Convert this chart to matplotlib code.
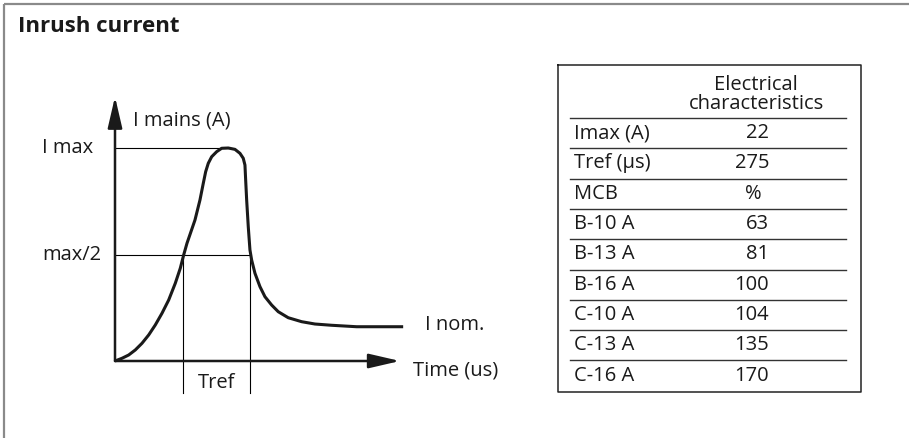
import matplotlib
matplotlib.use("Agg")
import matplotlib.pyplot as plt

plt.rcParams['font.family'] = ['Open Sans', 'DejaVu Sans']

# ---- data ----
title = "Inrush current"
curve_t = [0, 28.7, 56.2, 83.3, 110.8, 138.3, 165.4, 192.9, 220.4, 247.5, 268.0,
           281.9, 295.5, 328.3, 348.8, 362.4, 372.2, 382.9, 396.9, 417.4, 437.9,
           465.0, 492.5, 513.0, 526.5, 533.5, 536.4, 540.5, 547.1, 554.0, 561.0,
           574.6, 595.1, 615.6, 643.1, 670.2, 711.2, 766.2, 820.8, 889.3, 992, 1183]
curve_i = [0, 0.28, 0.62, 1.14, 1.83, 2.69, 3.72, 4.93, 6.30, 8.03, 9.58,
           10.95, 12.16, 14.56, 16.63, 18.35, 19.55, 20.42, 21.10, 21.62, 21.97,
           22.0, 21.86, 21.45, 20.94, 20.24, 18.70, 16.63, 13.87, 11.47, 10.43,
           9.06, 7.68, 6.64, 5.78, 5.09, 4.47, 4.06, 3.82, 3.69, 3.54, 3.54]
i_max = 22
t_rise = 281
t_ref = 275
i_nom = 3.54
t_axis_end = 1170
i_axis_end = 27.3

table_header = ["Electrical", "characteristics"]
row_labels = ["Imax (A)", "Tref (µs)", "MCB", "B-10 A", "B-13 A", "B-16 A",
              "C-10 A", "C-13 A", "C-16 A"]
row_values = ["22", "275", "%", "63", "81", "100", "104", "135", "170"]

W, H = 909, 438
fig = plt.figure(figsize=(W / 100, H / 100), dpi=100)
TXT = '#1a1a1a'
fs = 14.5

# overlay in pixel coords
ov = fig.add_axes([0, 0, 1, 1])
ov.set_xlim(0, W)
ov.set_ylim(H, 0)
ov.axis('off')

# frame (top + left)
ov.plot([4, W], [4, 4], color='#8a8a8a', lw=1.6, solid_capstyle='butt')
ov.plot([4, 4], [4, H], color='#8a8a8a', lw=1.6, solid_capstyle='butt')
ov.text(18, 27, title, fontsize=16, fontweight='bold', color=TXT,
        ha='left', va='center')

# table
tx0, tx1, ty0, ty1 = 558, 861, 65, 392
ov.plot([tx0, tx1, tx1, tx0, tx0], [ty0, ty0, ty1, ty1, ty0], color='#222222', lw=1.1)
for j, hl in enumerate(table_header):
    ov.text(756, 90 + 19 * j, hl, fontsize=fs, ha='center', va='baseline', color=TXT)
row_h = 30.3
first_line = 118
for k, (lab, val) in enumerate(zip(row_labels, row_values)):
    yl = first_line + k * row_h
    ov.plot([570, 846], [yl, yl], color='#333333', lw=1.0)
    yc = yl + row_h / 2
    ov.text(574, yc, lab, fontsize=fs, ha='left', va='center', color=TXT)
    if val == "%":
        ov.text(753, yc, val, fontsize=fs, ha='center', va='center', color=TXT)
    else:
        ov.text(769, yc, val, fontsize=fs, ha='right', va='center', color=TXT)

# chart axes (data coords)
x0px, x1px = 115, 400
y0px, y1px = 361, 148
ax = fig.add_axes([x0px / W, (H - y0px) / H, (x1px - x0px) / W, (y0px - y1px) / H])
ax.set_xlim(0, t_axis_end)
ax.set_ylim(0, i_max)
ax.axis('off')

t_fall = t_rise + t_ref
half = i_max / 2
peak_t = curve_t[curve_i.index(max(curve_i))]

ax.plot([0, peak_t], [i_max, i_max], color='k', lw=0.8, clip_on=False)
ax.plot([0, t_fall], [half, half], color='k', lw=0.8, clip_on=False)
for tv in (t_rise, t_fall):
    ax.plot([tv, tv], [half, -3.3], color='k', lw=0.8, clip_on=False)

ax.plot(curve_t, curve_i, color=TXT, lw=2.2, clip_on=False,
        solid_capstyle='butt', solid_joinstyle='round')

arr = dict(arrowstyle='-|>,head_length=0.95,head_width=0.22', lw=1.8, color=TXT,
           shrinkA=0, shrinkB=0, mutation_scale=20)
ax.annotate('', xy=(t_axis_end, 0), xytext=(0, 0), arrowprops=arr, annotation_clip=False)
ax.annotate('', xy=(0, i_axis_end), xytext=(0, 0), arrowprops=arr, annotation_clip=False)

ax.text(-300, i_max, "I max", fontsize=fs, ha='left', va='center', color=TXT)
ax.text(-300, half, "max/2", fontsize=fs, ha='left', va='center', color=TXT)
ax.text(74, 24.8, "I mains (A)", fontsize=fs, ha='left', va='center', color=TXT)
ax.text(1273, 3.7, "I nom.", fontsize=fs, ha='left', va='center', color=TXT)
ax.text(1223, -0.93, "Time (us)", fontsize=fs, ha='left', va='center', color=TXT)
ax.text((t_rise + t_fall) / 2, -2.3, "Tref", fontsize=fs, ha='center', va='center',
        color=TXT)

fig.savefig("out.png", dpi=100)
